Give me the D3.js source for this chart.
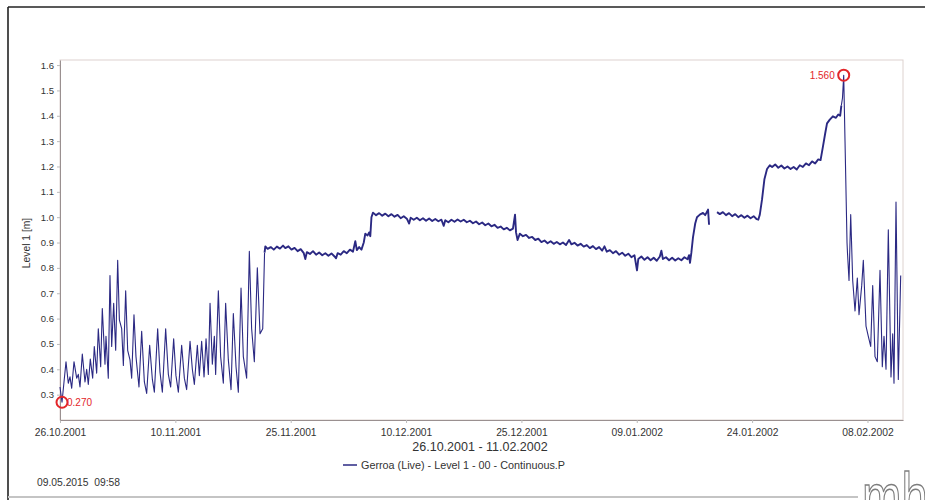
<!DOCTYPE html>
<html>

<head>
    <script src="https://cdnjs.cloudflare.com/ajax/libs/d3/7.8.5/d3.min.js"></script>
    <title>Gerroa Level 1</title>
    <style>
        body { margin: 0; background: #fff; }
        text { font-family: "Liberation Sans", Arial, sans-serif; }
    </style>
</head>

<body>

    <div id="graph"></div>

    <script>

        // days since 26.10.2001 and level [m]
        var tidalPart = [
            [0.00, 0.33], [0.26, 0.27], [0.78, 0.43], [1.08, 0.345], [1.30, 0.37], [1.52, 0.325], [1.82, 0.43],
            [2.17, 0.365], [2.38, 0.38], [2.60, 0.33], [2.90, 0.46], [3.25, 0.35], [3.47, 0.40], [3.68, 0.34],
            [3.94, 0.44], [4.25, 0.365], [4.46, 0.49], [4.77, 0.385], [4.98, 0.56], [5.29, 0.41], [5.50, 0.64],
            [5.85, 0.42], [5.98, 0.53], [6.28, 0.365], [6.50, 0.77], [6.72, 0.49], [6.98, 0.66], [7.24, 0.475],
            [7.50, 0.83], [7.72, 0.595], [8.02, 0.56], [8.24, 0.415], [8.54, 0.71], [8.80, 0.475], [9.10, 0.437],
            [9.32, 0.365], [9.62, 0.615], [9.88, 0.45], [10.27, 0.33], [10.62, 0.55], [10.97, 0.35], [11.27, 0.305],
            [11.66, 0.495], [12.01, 0.36], [12.27, 0.31], [12.70, 0.56], [13.00, 0.39], [13.31, 0.31], [13.74, 0.56],
            [14.09, 0.38], [14.39, 0.33], [14.78, 0.52], [15.08, 0.375], [15.39, 0.31], [15.82, 0.495], [16.17, 0.365],
            [16.47, 0.32], [16.91, 0.51], [17.21, 0.40], [17.47, 0.34], [17.86, 0.495], [18.12, 0.375], [18.42, 0.51],
            [18.73, 0.37], [18.99, 0.52], [19.29, 0.38], [19.51, 0.66], [19.81, 0.42], [20.07, 0.53], [20.24, 0.38],
            [20.59, 0.71], [20.89, 0.45], [21.24, 0.345], [21.54, 0.66], [21.89, 0.437], [22.24, 0.32], [22.54, 0.62],
            [22.89, 0.41], [23.19, 0.31], [23.54, 0.72], [23.84, 0.45], [24.27, 0.365], [24.62, 0.865], [24.92, 0.56],
            [25.27, 0.43], [25.66, 0.80], [26.01, 0.54], [26.36, 0.56], [26.60, 0.86]
        ];

        var plateauPart = [
            [26.60, 0.86], [26.70, 0.885], [27.0, 0.875], [27.4, 0.882], [27.8, 0.872], [28.2, 0.884], [28.6, 0.876],
            [29.0, 0.888], [29.3, 0.878], [29.7, 0.885], [30.1, 0.872], [30.5, 0.879], [30.9, 0.866], [31.3, 0.874],
            [31.7, 0.858], [31.9, 0.835], [32.1, 0.862], [32.5, 0.855], [32.9, 0.866], [33.3, 0.852], [33.7, 0.861],
            [34.1, 0.85], [34.5, 0.858], [34.9, 0.848], [35.3, 0.857], [35.7, 0.845], [35.9, 0.838], [36.1, 0.858],
            [36.5, 0.852], [36.9, 0.866], [37.3, 0.858], [37.7, 0.872], [38.1, 0.864], [38.4, 0.905], [38.6, 0.87],
            [38.9, 0.882], [39.2, 0.872], [39.5, 0.9], [39.7, 0.935], [40.0, 0.928], [40.2, 0.94], [40.35, 0.925],
            [40.5, 1.0], [40.7, 1.018], [41.1, 1.008], [41.5, 1.016], [41.9, 1.006], [42.3, 1.014], [42.7, 1.004],
            [43.1, 1.012], [43.5, 1.002], [43.9, 1.009], [44.3, 0.996], [44.7, 1.004], [45.1, 0.994], [45.4, 0.975],
            [45.6, 0.998], [46.0, 0.99], [46.4, 0.998], [46.8, 0.988], [47.2, 0.996], [47.6, 0.986], [48.0, 0.995],
            [48.4, 0.985], [48.8, 0.993], [49.2, 0.984], [49.6, 0.99], [49.9, 0.966], [50.1, 0.988], [50.5, 0.98],
            [50.9, 0.99], [51.3, 0.982], [51.7, 0.991], [52.1, 0.983], [52.5, 0.99], [52.9, 0.98], [53.3, 0.986],
            [53.7, 0.976], [54.1, 0.983], [54.5, 0.972], [54.9, 0.979], [55.3, 0.968], [55.7, 0.975], [56.1, 0.964],
            [56.5, 0.97], [56.9, 0.958], [57.3, 0.963], [57.7, 0.952], [58.1, 0.958], [58.5, 0.948], [58.9, 0.955],
            [59.17, 1.01], [59.3, 0.94], [59.5, 0.91], [59.8, 0.935], [60.2, 0.925], [60.6, 0.93], [61.0, 0.918],
            [61.4, 0.922], [61.8, 0.91], [62.2, 0.915], [62.6, 0.902], [63.0, 0.908], [63.4, 0.897], [63.8, 0.905],
            [64.2, 0.895], [64.6, 0.902], [65.0, 0.893], [65.4, 0.9], [65.8, 0.89], [66.2, 0.91], [66.5, 0.893],
            [66.9, 0.899], [67.3, 0.888], [67.7, 0.895], [68.1, 0.884], [68.5, 0.89], [68.9, 0.878], [69.3, 0.886],
            [69.7, 0.874], [70.1, 0.882], [70.5, 0.868], [70.8, 0.885], [71.1, 0.864], [71.5, 0.87], [71.9, 0.858],
            [72.3, 0.866], [72.7, 0.852], [73.1, 0.86], [73.5, 0.848], [73.9, 0.856], [74.3, 0.842], [74.7, 0.85],
            [75.03, 0.79], [75.2, 0.835], [75.6, 0.845], [76.0, 0.832], [76.4, 0.842], [76.8, 0.83], [77.2, 0.84],
            [77.6, 0.828], [78.0, 0.845], [78.2, 0.868], [78.4, 0.835], [78.8, 0.842], [79.2, 0.83], [79.6, 0.84],
            [80.0, 0.829], [80.4, 0.838], [80.8, 0.83], [81.2, 0.842], [81.6, 0.834], [81.8, 0.85], [81.92, 0.82],
            [82.1, 0.86], [82.31, 0.92], [82.6, 0.975], [82.83, 1.0], [83.2, 1.01], [83.61, 1.017], [83.9, 1.008],
            [84.27, 1.03], [84.4, 0.97]
        ];

        var lastPart = [
            [85.44, 1.02], [85.8, 1.012], [86.2, 1.02], [86.6, 1.008], [87.0, 1.016], [87.4, 1.004], [87.8, 1.012],
            [88.2, 1.0], [88.6, 1.008], [89.0, 0.998], [89.4, 1.006], [89.8, 0.996], [90.2, 1.004], [90.6, 0.992],
            [90.8, 0.99], [91.0, 1.01], [91.29, 1.07], [91.6, 1.15], [91.94, 1.19], [92.3, 1.205], [92.6, 1.198],
            [93.0, 1.208], [93.4, 1.195], [93.8, 1.204], [94.2, 1.192], [94.6, 1.2], [95.0, 1.19], [95.4, 1.198],
            [95.8, 1.188], [96.2, 1.205], [96.6, 1.198], [97.0, 1.212], [97.4, 1.205], [97.8, 1.22], [98.2, 1.212],
            [98.6, 1.228], [98.9, 1.225], [99.22, 1.28], [99.5, 1.33], [99.74, 1.37], [100.1, 1.385], [100.5, 1.398],
            [100.9, 1.392], [101.2, 1.405], [101.45, 1.40], [101.6, 1.44]
        ];

        var fallPart = [
            [101.6, 1.44], [101.75, 1.47], [101.91, 1.56],
            [102.08, 1.30], [102.21, 1.10], [102.34, 0.90], [102.4, 0.86], [102.6, 0.75], [102.82, 1.01],
            [103.08, 0.75], [103.38, 0.63], [103.68, 0.76], [103.9, 0.615], [104.25, 0.73], [104.46, 0.83],
            [104.81, 0.57], [105.11, 0.53], [105.42, 0.49], [105.68, 0.73], [105.98, 0.45], [106.28, 0.43],
            [106.63, 0.79], [106.93, 0.41], [107.15, 0.53], [107.41, 0.40], [107.71, 0.95], [108.06, 0.37],
            [108.28, 0.54], [108.45, 0.345], [108.71, 1.06], [109.01, 0.36], [109.32, 0.77]
        ];

        var xTickLabels = ["26.10.2001", "10.11.2001", "25.11.2001", "10.12.2001",
            "25.12.2001", "09.01.2002", "24.01.2002", "08.02.2002"];
        var yTicks = [0.3, 0.4, 0.5, 0.6, 0.7, 0.8, 0.9, 1.0, 1.1, 1.2, 1.3, 1.4, 1.5, 1.6];
        var yDomain = [0.2, 1.62];
        var startLabel = "26.10.2001";
        var spanDays = 109.62;

        var chartTitle = "26.10.2001 - 11.02.2002";
        var yTitle = "Level 1 [m]";
        var legendText = "Gerroa (Live) - Level 1 - 00 - Continuous.P";
        var printedAt = "09.05.2015  09:58";

        var lineColor = "#2b2983";

        var W = 925, H = 500;
        var margin = { top: 60, right: 22, bottom: 80, left: 60 },
            width = W - margin.left - margin.right,
            height = H - margin.top - margin.bottom;

        var svg = d3.select("#graph")
            .append("svg")
            .attr("width", W)
            .attr("height", H);

        // page frame
        svg.append("line").attr("x1", 8).attr("x2", W).attr("y1", 7).attr("y2", 7)
            .attr("stroke", "#222").attr("stroke-width", 1.6);
        svg.append("line").attr("x1", 8).attr("x2", 8).attr("y1", 7).attr("y2", H)
            .attr("stroke", "#222").attr("stroke-width", 1.6);
        svg.append("line").attr("x1", 8).attr("x2", 858).attr("y1", 497).attr("y2", 497)
            .attr("stroke", "#c4c4c4").attr("stroke-width", 2);

        var g = svg.append("g")
            .attr("transform", "translate(" + margin.left + "," + margin.top + ")");

        var parse = d3.utcParse("%d.%m.%Y");
        var start = parse(startLabel);
        function toDate(days) { return new Date(start.getTime() + days * 864e5); }

        var x = d3.scaleUtc()
            .domain([start, toDate(spanDays)])
            .range([0, width]);

        var y = d3.scaleLinear()
            .domain(yDomain)
            .range([height, 0]);

        // light box round the plot
        g.append("rect")
            .attr("x", 0).attr("y", 0)
            .attr("width", width).attr("height", height)
            .attr("fill", "none")
            .attr("stroke", "#ddd2cf");

        // axes
        var xAxis = g.append("g")
            .attr("transform", "translate(0," + height + ")")
            .call(d3.axisBottom(x)
                .tickValues(xTickLabels.map(parse))
                .tickFormat(d3.utcFormat("%d.%m.%Y"))
                .tickSize(3)
                .tickSizeOuter(0)
                .tickPadding(6));

        var yAxis = g.append("g")
            .call(d3.axisLeft(y)
                .tickValues(yTicks)
                .tickFormat(d3.format(".1f"))
                .tickSize(3)
                .tickSizeOuter(0)
                .tickPadding(3));

        [xAxis, yAxis].forEach(function (a) {
            a.select(".domain").attr("stroke", "#9a9090");
            a.selectAll(".tick line").attr("stroke", "#bbb");
            a.selectAll(".tick text")
                .attr("fill", "#333")
                .style("font-family", "'Liberation Sans', Arial, sans-serif");
        });
        xAxis.selectAll(".tick text").style("font-size", "10.3px");
        yAxis.selectAll(".tick text").style("font-size", "9.5px");

        // the series: thin where it swings with the tide, heavier on the noisy plateaus
        var line = d3.line()
            .x(function (d) { return x(toDate(d[0])); })
            .y(function (d) { return y(d[1]); });

        g.selectAll(".series")
            .data([
                { pts: tidalPart, w: 1.1 },
                { pts: plateauPart, w: 1.9 },
                { pts: lastPart, w: 1.9 },
                { pts: fallPart, w: 1.1 }
            ])
            .enter()
            .append("path")
            .attr("class", "series")
            .attr("d", function (d) { return line(d.pts); })
            .attr("fill", "none")
            .attr("stroke", lineColor)
            .attr("stroke-width", function (d) { return d.w; })
            .attr("stroke-linejoin", "round");

        // min and max markers
        var all = tidalPart.concat(plateauPart, lastPart, fallPart);
        var lo = d3.least(all, function (d) { return d[1]; });
        var hi = d3.greatest(all, function (d) { return d[1]; });
        var fmt = d3.format(".3f");

        [lo, hi].forEach(function (p, i) {
            g.append("circle")
                .attr("cx", x(toDate(p[0])))
                .attr("cy", y(p[1]))
                .attr("r", 5.5)
                .attr("fill", "none")
                .attr("stroke", "#e3262a")
                .attr("stroke-width", 2);
            g.append("text")
                .attr("x", x(toDate(p[0])) + (i == 0 ? 5 : -9))
                .attr("y", y(p[1]) + 3.5)
                .attr("text-anchor", i == 0 ? "start" : "end")
                .attr("font-size", "10px")
                .attr("fill", "#e3262a")
                .text(fmt(p[1]));
        });

        // titles
        svg.append("text")
            .attr("transform", "translate(30," + (margin.top + height / 2 + 3) + ") rotate(-90)")
            .attr("text-anchor", "middle")
            .attr("font-size", "10.3px")
            .attr("fill", "#333")
            .text(yTitle);

        svg.append("text")
            .attr("x", 480)
            .attr("y", 451)
            .attr("text-anchor", "middle")
            .attr("font-size", "12.5px")
            .attr("fill", "#333")
            .text(chartTitle);

        // legend
        svg.append("line")
            .attr("x1", 343).attr("x2", 357)
            .attr("y1", 465).attr("y2", 465)
            .attr("stroke", lineColor)
            .attr("stroke-width", 1.5);
        svg.append("text")
            .attr("x", 361)
            .attr("y", 468.5)
            .attr("font-size", "10.8px")
            .attr("fill", "#333")
            .text(legendText);

        svg.append("text")
            .attr("x", 37)
            .attr("y", 486)
            .attr("font-size", "10.3px")
            .attr("fill", "#333")
            .style("white-space", "pre")
            .text(printedAt);

        // logo, cut by the page edge as in the print
        svg.append("text")
            .attr("transform", "translate(862,522) scale(0.95,1.4)")
            .attr("font-size", "50px")
            .attr("fill", "#fff")
            .attr("stroke", "#7d7d7d")
            .attr("stroke-width", 1.3)
            .style("vector-effect", "non-scaling-stroke")
            .text("mhl");

    </script>

</body>

</html>
